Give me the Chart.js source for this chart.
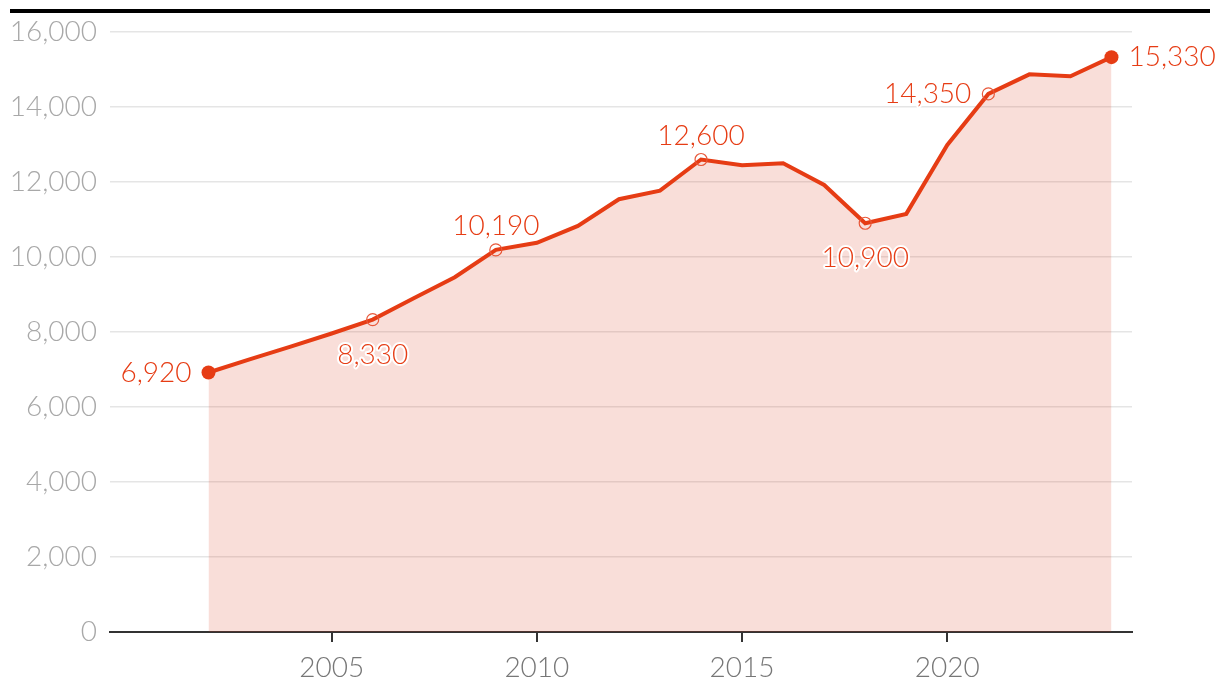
<!DOCTYPE html>
<html>
<head>
<meta charset="utf-8">
<script src="https://cdn.jsdelivr.net/npm/chart.js@4"></script>
<style>
body{margin:0;background:#fff;}
#wrap{width:1220px;height:700px;position:relative;}
</style>
</head>
<body>
<div id="wrap"><canvas id="chart" width="1220" height="700"></canvas></div>
<script>
/* ================= DATA ================= */
const years=[2002,2003,2004,2005,2006,2007,2008,2009,2010,2011,2012,2013,2014,2015,2016,2017,2018,2019,2020,2021,2022,2023,2024];
const values=[6920,7270,7610,7960,8330,8900,9460,10190,10380,10830,11540,11770,12600,12450,12500,11920,10900,11150,12990,14350,14870,14820,15330];
const xTicks=[2005,2010,2015,2020];
const yTicks=[0,2000,4000,6000,8000,10000,12000,14000,16000];

/* labelled points: year, where the text goes */
const labelYears=[2002,2006,2009,2014,2018,2021,2024];
const labelPos=["left","below","above","above","below","left","right"];
const endYears=[2002,2024];

const RED="#e63c14";
const FONT="Lato, 'Open Sans', sans-serif";
const fmt=v=>Number(v).toLocaleString("en-US");

/* ================= POINT STYLES ================= */
const radius=years.map(y=>endYears.includes(y)?7:labelYears.includes(y)?6:0);
const pBg=years.map(y=>endYears.includes(y)?RED:"rgba(0,0,0,0)");
const pBorder=years.map(y=>endYears.includes(y)?RED:"#e8583a");
const pBorderW=years.map(y=>endYears.includes(y)?0:1.2);

/* ================= PLUGINS ================= */
const topRule={
id:"topRule",
afterDraw(c){
const ctx=c.ctx;
ctx.save();
ctx.fillStyle="#000";
ctx.fillRect(10,9,1200,4);
ctx.restore();
}
};

const pointLabels={
id:"pointLabels",
afterDatasetsDraw(c){
const ctx=c.ctx;
const meta=c.getDatasetMeta(0);
ctx.save();
ctx.font="300 28px "+FONT;
ctx.textBaseline="middle";
ctx.lineJoin="round";
labelYears.forEach((y,k)=>{
const i=years.indexOf(y);
const p=meta.data[i];
let x=p.x,ty=p.y;
const pos=labelPos[k];
if(pos==="left"){ctx.textAlign="right";x-=17;}
else if(pos==="right"){ctx.textAlign="left";x+=17;}
else{ctx.textAlign="center";ty+=pos==="above"?-24:35;}
const t=fmt(values[i]);
ctx.strokeStyle="#fff";
ctx.lineWidth=4;
ctx.strokeText(t,x,ty);
ctx.fillStyle=RED;
ctx.fillText(t,x,ty);
});
ctx.restore();
}
};

/* ================= CHART ================= */
new Chart(document.getElementById("chart"),{
type:"line",
data:{
datasets:[{
data:years.map((y,i)=>({x:y,y:values[i]})),
borderColor:RED,
borderWidth:4,
backgroundColor:"rgba(220,60,30,0.17)",
fill:"origin",
tension:0,
pointRadius:radius,
pointBackgroundColor:pBg,
pointBorderColor:pBorder,
pointBorderWidth:pBorderW,
pointHoverRadius:radius
}]
},
options:{
responsive:false,
animation:false,
events:[],
layout:{padding:{top:32,right:88,left:0,bottom:0}},
plugins:{legend:{display:false},tooltip:{enabled:false}},
scales:{
x:{
type:"linear",
min:1999.6,
max:2024.5,
afterBuildTicks:s=>{s.ticks=xTicks.map(v=>({value:v}));},
afterFit:s=>{s.height=68;},
border:{display:true,color:"#333",width:2},
grid:{display:true,drawOnChartArea:false,drawTicks:true,tickLength:10,color:"#333",lineWidth:2},
ticks:{color:"#777",padding:9,font:{family:FONT,size:28,weight:"300"},callback:v=>String(v)}
},
y:{
min:0,
max:16000,
afterBuildTicks:s=>{s.ticks=yTicks.map(v=>({value:v}));},
afterFit:s=>{s.width=110;},
border:{display:false},
grid:{color:"#e5e5e5",lineWidth:1.5,drawTicks:false},
ticks:{color:"#a8a8a8",padding:13,font:{family:FONT,size:28,weight:"300"},callback:v=>fmt(v)}
}
}
},
plugins:[topRule,pointLabels]
});
</script>
</body>
</html>
